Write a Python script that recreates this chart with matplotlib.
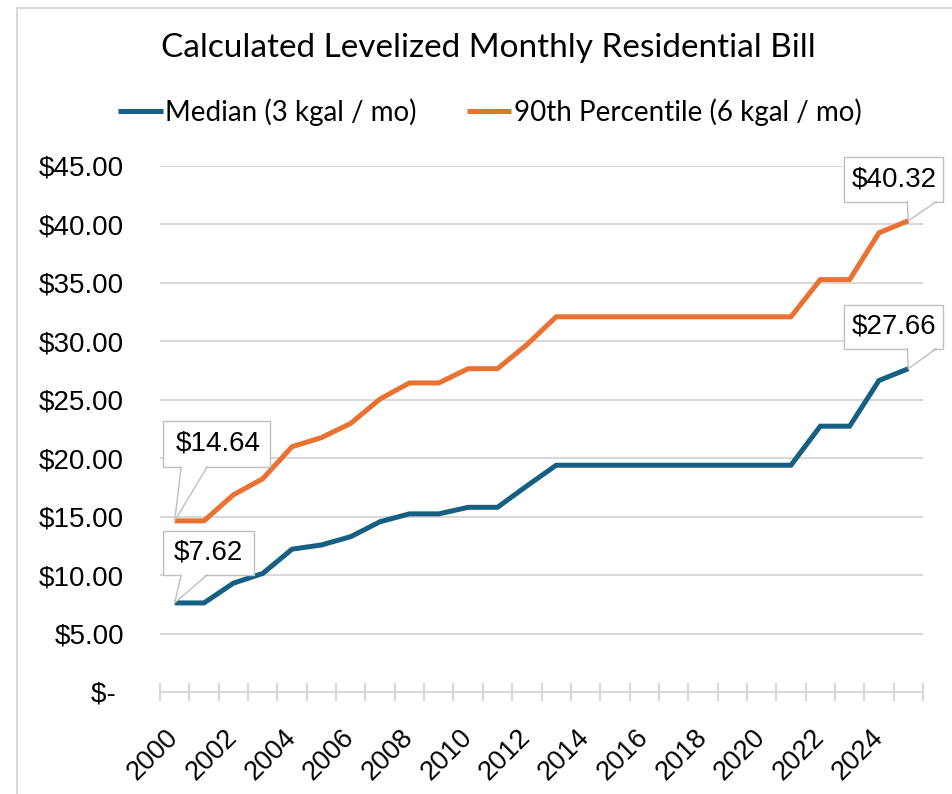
import matplotlib
matplotlib.use("Agg")
import matplotlib.pyplot as plt
from matplotlib.patches import Rectangle, Polygon
from matplotlib.lines import Line2D
from matplotlib.ticker import FuncFormatter, FixedLocator
from matplotlib.transforms import IdentityTransform, ScaledTranslation

# values
years = list(range(2000, 2026))
median = [7.62, 7.62, 9.31, 10.14, 12.22, 12.58, 13.29, 14.57, 15.24, 15.24,
          15.80, 15.80, 17.63, 19.40, 19.40, 19.40, 19.40, 19.40, 19.40, 19.40,
          19.40, 19.40, 22.74, 22.74, 26.65, 27.66]
pct90 = [14.64, 14.64, 16.87, 18.24, 20.99, 21.76, 22.98, 25.07, 26.44, 26.44,
         27.66, 27.66, 29.71, 32.10, 32.10, 32.10, 32.10, 32.10, 32.10, 32.10,
         32.10, 32.10, 35.28, 35.28, 39.28, 40.32]
y_ticks = [0, 5, 10, 15, 20, 25, 30, 35, 40, 45]

blue = "#156082"
orange = "#E97132"
grid_gray = "#d9d9d9"
box_gray = "#bfbfbf"
head_font = "Lato"
num_font = "Liberation Sans"

fig = plt.figure(figsize=(9.53, 7.94), dpi=100)
W, H = 953, 794
ax = fig.add_axes([160 / W, (H - 692) / H, 763 / W, (692 - 166) / H])

# category axis: points sit in the middle of each slot
xpos = [i + 0.5 for i in range(len(years))]
ax.plot(xpos, median, color=blue, lw=3.6, solid_joinstyle="miter",
        solid_capstyle="butt", label="Median (3 kgal / mo)", zorder=3)
ax.plot(xpos, pct90, color=orange, lw=3.6, solid_joinstyle="miter",
        solid_capstyle="butt", label="90th Percentile (6 kgal / mo)", zorder=3)

ax.set_xlim(0, len(years))
ax.set_ylim(0, 45)

ax.set_yticks(y_ticks)
ax.yaxis.set_major_formatter(FuncFormatter(
    lambda v, p: "$- " if v == 0 else "${:.2f}".format(v)))
ax.yaxis.grid(True, color=grid_gray, lw=1.5)
ax.set_axisbelow(True)
ax.tick_params(axis="y", length=0, pad=26, labelsize=20, labelcolor="#000000")
for lab in ax.get_yticklabels():
    lab.set_fontfamily(num_font)

# year labels every 2 categories, tick marks on the slot edges
ax.set_xticks([xpos[i] for i in range(0, len(years), 2)])
ax.set_xticklabels([str(years[i]) for i in range(0, len(years), 2)])
ax.xaxis.set_minor_locator(FixedLocator(range(len(years) + 1)))
ax.tick_params(axis="x", which="major", length=0, pad=30, labelsize=19.5)
ax.tick_params(axis="x", which="minor", direction="inout", length=13.5,
               width=1.5, color=grid_gray)
for lab in ax.get_xticklabels():
    lab.set_fontfamily(num_font)
    lab.set_rotation(45)
    lab.set_ha("right")
    lab.set_va("center")
    lab.set_rotation_mode("anchor")

for side in ["top", "right", "left"]:
    ax.spines[side].set_visible(False)
ax.spines["bottom"].set_color(grid_gray)
ax.spines["bottom"].set_linewidth(1.5)


# Excel style callout: box + pointer, all sizes in pixels relative to the point
def callout(i, vals, box, base, text_off):
    left, right, bottom, top = box
    tr = IdentityTransform() + ScaledTranslation(xpos[i], vals[i], ax.transData)
    ax.add_patch(Rectangle((left, bottom), right - left, top - bottom,
                           transform=tr, fc="white", ec=box_gray, lw=1.0,
                           clip_on=False, zorder=5))
    ax.add_patch(Polygon([(0, 0), (base[0], bottom + 2), (base[1], bottom + 2)],
                         closed=True, transform=tr, fc="white", ec="none",
                         clip_on=False, zorder=6))
    ax.add_line(Line2D([base[0], 0, base[1]], [bottom, 0, bottom],
                       transform=tr, color=box_gray, lw=1.0,
                       clip_on=False, zorder=6))
    ax.text(text_off[0], text_off[1], "${:.2f}".format(vals[i]),
            transform=tr, ha="center", va="center", fontsize=20,
            family=num_font, zorder=7, clip_on=False)


callout(0, pct90, (-12, 95, 54, 100), (6.5, 32.5), (43.5, 77))
callout(0, median, (-12, 79, 28, 72), (6.5, 32.5), (33.5, 50))
callout(-1, pct90, (-64, 35, 19, 64), (-1, 28), (-14, 41))
callout(-1, median, (-64, 35, 20, 64), (-1, 28), (-14, 42))

fig.text(488 / W, (H - 48) / H, "Calculated Levelized Monthly Residential Bill",
         ha="center", va="center", fontsize=24, family=head_font,
         color="#000000")

fig.legend(loc="center", bbox_to_anchor=(490 / W, (H - 112) / H), ncol=2,
           frameon=False, prop={"family": head_font, "size": 20},
           handlelength=1.6, handletextpad=0.1, columnspacing=1.8)

# chart area border (only top/left edge shows in the crop)
fig.patches.append(Rectangle((17 / W, -0.1), 1.2, (H - 7.5) / H + 0.1,
                             transform=fig.transFigure, fill=False,
                             ec=grid_gray, lw=1.5))

fig.savefig("out.png", dpi=100)
